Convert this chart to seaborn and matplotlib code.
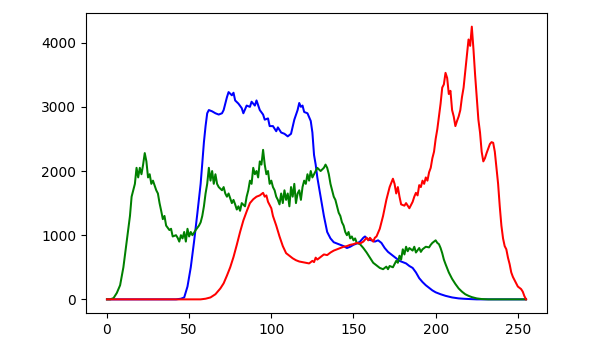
import matplotlib
matplotlib.use("Agg")
import matplotlib.pyplot as plt
import seaborn as sns
import pandas as pd

# Blue channel histogram (bin -> count)
blue_bins = [0, 42, 45, 47, 49, 51, 53, 55, 57, 58, 59, 60, 61, 62, 64, 66, 68, 70, 71, 73, 74, 76, 77, 78, 80,
             82, 83, 85, 87, 88, 90, 91, 93, 95, 96, 98, 99, 101, 103, 104, 106, 108, 110, 112, 114, 116,
             117, 118, 119, 120, 122, 124, 125, 126, 127, 128, 130, 132, 134, 136, 138, 140, 142, 144, 146,
             148, 150, 152, 154, 156, 157, 159, 161, 163, 165, 167, 169, 171, 173, 176, 178, 180, 182, 184,
             186, 188, 190, 192, 194, 196, 198, 200, 203, 206, 210, 214, 218, 225, 255]
blue_vals = [0, 0, 10, 30, 200, 500, 900, 1340, 1800, 2120, 2450, 2700, 2900, 2950, 2930, 2900, 2880, 2900,
             2950, 3150, 3230, 3180, 3220, 3100, 3050, 2980, 2900, 3020, 3000, 3080, 3020, 3100, 2950, 2880,
             2800, 2820, 2700, 2700, 2620, 2680, 2600, 2580, 2540, 2580, 2800, 2950, 3060, 3000, 3020, 2920,
             2900, 2780, 2600, 2250, 2100, 1900, 1600, 1300, 1050, 950, 890, 870, 850, 830, 800, 820, 850, 870,
             900, 960, 980, 930, 920, 900, 920, 880, 800, 740, 700, 640, 600, 580, 560, 520, 490, 420, 330, 270,
             220, 180, 140, 110, 80, 55, 30, 15, 8, 0, 0]

# Green channel histogram
green_bins = [0, 2, 4, 6, 8, 10, 12, 14, 15, 17, 18, 19, 20, 21, 22, 23, 24, 25, 26, 27, 28, 30, 31, 32, 33,
              34, 35, 36, 38, 39, 40, 42, 43, 44, 45, 46, 47, 48, 49, 50, 51, 52, 54, 56, 57, 58, 59, 60, 61,
              62, 63, 64, 65, 66, 67, 68, 70, 71, 72, 73, 74, 76, 77, 78, 79, 80, 81, 82, 84, 85, 86, 87, 88,
              89, 90, 91, 92, 93, 94, 95, 96, 97, 98, 99, 100, 101, 102, 103, 104, 105, 106, 107, 108, 109,
              110, 111, 112, 113, 114, 115, 116, 117, 118, 119, 120, 121, 122, 123, 124, 125, 126, 128, 130,
              132, 133, 134, 135, 136, 137, 138, 139, 140, 141, 142, 143, 144, 145, 146, 147, 148, 149, 150,
              151, 152, 154, 156, 158, 160, 162, 164, 166, 168, 170, 171, 172, 174, 176, 177, 178, 179, 180,
              181, 182, 183, 184, 186, 187, 188, 190, 191, 192, 194, 196, 197, 198, 200, 201, 202, 203, 204,
              205, 206, 208, 210, 212, 214, 216, 218, 220, 222, 225, 228, 232, 255]
green_vals = [0, 0, 20, 100, 220, 500, 900, 1300, 1600, 1800, 2050, 1900, 2050, 1950, 2100, 2280, 2150, 1900,
              1950, 1800, 1850, 1700, 1650, 1500, 1380, 1250, 1300, 1150, 1080, 1100, 980, 1000, 960, 900,
              1000, 950, 1050, 900, 1100, 980, 1050, 1000, 1080, 1150, 1200, 1300, 1450, 1650, 1800, 2050,
              1850, 2000, 1800, 1950, 1800, 1750, 1700, 1750, 1650, 1600, 1650, 1500, 1550, 1480, 1400, 1450,
              1380, 1500, 1450, 1600, 1700, 1850, 1800, 2050, 1950, 2000, 1900, 2150, 2100, 2330, 2100, 1950,
              2000, 1800, 1850, 1750, 1700, 1600, 1550, 1480, 1650, 1500, 1700, 1550, 1650, 1450, 1750, 1600,
              1800, 1500, 1650, 1700, 1550, 1750, 1850, 1800, 1950, 1850, 2000, 1900, 1950, 2050, 2000, 2050,
              2100, 2050, 1950, 1800, 1700, 1600, 1550, 1450, 1350, 1300, 1200, 1150, 1050, 1000, 1050, 950,
              980, 920, 950, 880, 860, 800, 730, 650, 570, 530, 490, 470, 510, 470, 520, 500, 600, 570, 680,
              620, 780, 700, 820, 750, 800, 760, 820, 730, 800, 740, 780, 820, 810, 850, 880, 920, 880, 860,
              800, 720, 620, 550, 420, 320, 240, 170, 120, 80, 55, 35, 15, 5, 0, 0]

# Red channel histogram
red_bins = [0, 57, 60, 63, 66, 69, 71, 73, 75, 77, 79, 81, 83, 85, 87, 89, 91, 93, 95, 96, 97, 98,
            100, 101, 103, 105, 107, 109, 111, 113, 115, 117, 119, 121, 123, 125, 126, 127, 128, 130, 132, 134,
            136, 138, 140, 142, 144, 146, 148, 150, 152, 154, 156, 158, 159, 160, 162, 163, 164, 166, 168,
            170, 172, 174, 175, 176, 177, 178, 179, 181, 182, 184, 186, 187, 188, 189, 190, 191, 192, 193,
            194, 195, 196, 197, 198, 199, 200, 201, 202, 203, 204, 205, 206, 207, 208, 209, 210, 211, 212,
            213, 214, 215, 216, 217, 218, 219, 220, 221, 222, 223, 224, 225, 226, 227, 228, 229, 230, 231,
            232, 233, 234, 235, 236, 237, 238, 239, 240, 241, 242, 243, 244, 245, 246, 247, 248, 249, 250,
            251, 252, 253, 254, 255]
red_vals = [0, 0, 10, 30, 80, 170, 250, 370, 500, 660, 850, 1050, 1230, 1370, 1500, 1560, 1600,
            1620, 1660, 1600, 1620, 1520, 1420, 1300, 1150, 980, 830, 720, 680, 640, 610, 590, 580, 570, 560,
            600, 580, 650, 620, 660, 700, 690, 730, 760, 780, 800, 820, 830, 850, 860, 880, 870, 900, 960, 920,
            960, 900, 960, 980, 1100, 1300, 1550, 1750, 1880, 1800, 1650, 1750, 1600, 1480, 1460, 1500, 1420,
            1520, 1600, 1660, 1620, 1780, 1750, 1850, 1800, 1900, 1850, 1980, 2050, 2200, 2300, 2500, 2650,
            2850, 3050, 3300, 3350, 3530, 3450, 3200, 3250, 2950, 2850, 2700, 2780, 2850, 2950, 3150, 3300,
            3550, 3800, 4050, 3950, 4250, 3900, 3500, 3150, 2800, 2600, 2300, 2150, 2200, 2280, 2350, 2420,
            2450, 2440, 2300, 2050, 1800, 1450, 1150, 950, 830, 780, 650, 550, 420, 350, 300, 250, 200, 180,
            160, 120, 50, 0]

x_ticks = [0, 50, 100, 150, 200, 250]
y_ticks = [0, 1000, 2000, 3000, 4000]

fig = plt.figure(figsize=(5.94, 3.53), dpi=100)
ax = fig.add_axes([86 / 594, 1 - 313 / 353, (547 - 86) / 594, (313 - 13) / 353])

series = [(blue_bins, blue_vals, "b"), (green_bins, green_vals, "g"), (red_bins, red_vals, "r")]
for bins, vals, col in series:
    df = pd.DataFrame({"bin": bins, "count": vals})
    sns.lineplot(data=df, x="bin", y="count", color=col, linewidth=1.45, ax=ax)

ax.set_xticks(x_ticks)
ax.set_yticks(y_ticks)
ax.set_xlabel("")
ax.set_ylabel("")
ax.tick_params(labelsize=10)
ax.margins(x=0.05, y=0.05)

fig.savefig("out.png", dpi=100)
